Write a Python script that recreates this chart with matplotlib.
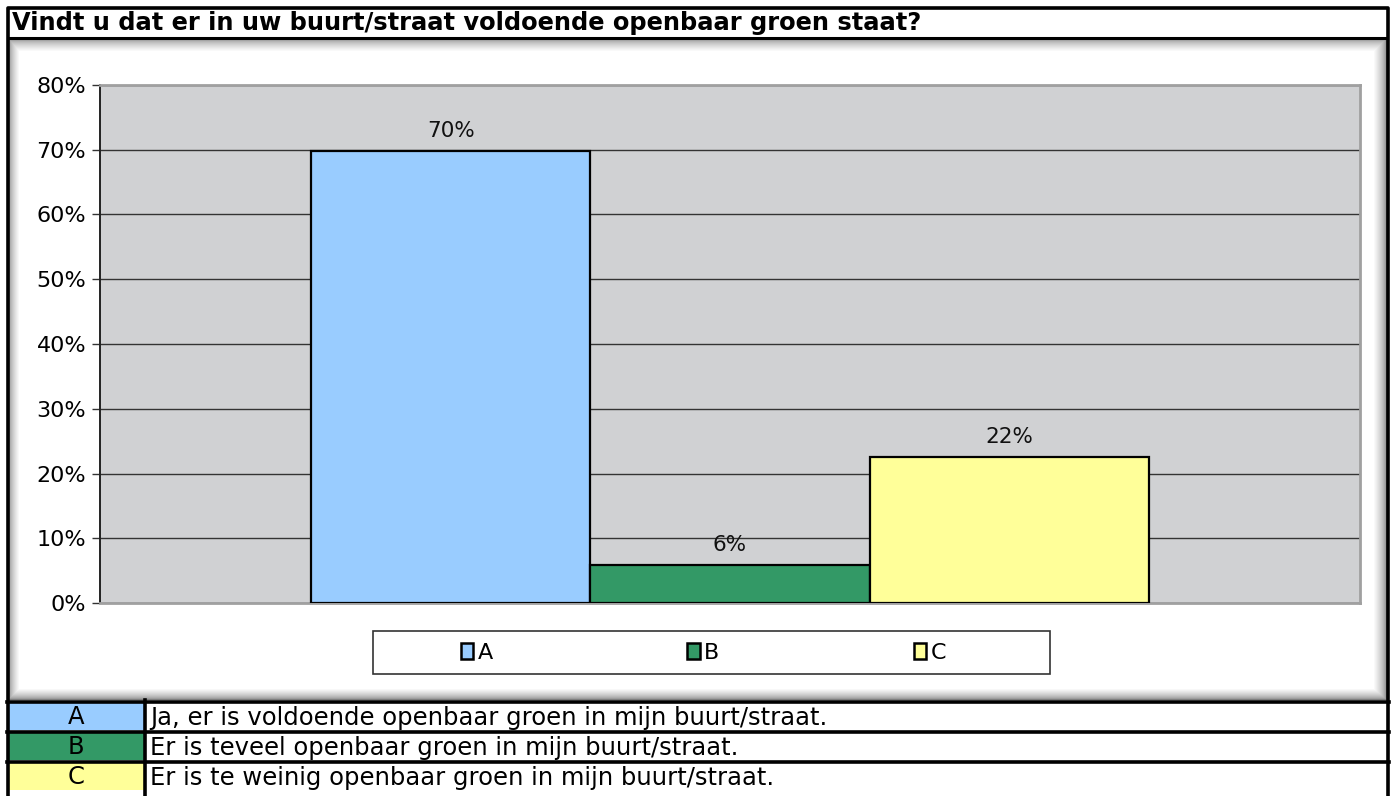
import numpy as np
import matplotlib
matplotlib.use("Agg")
import matplotlib.pyplot as plt
from matplotlib.patches import Rectangle, Patch

# data
categories = ["A", "B", "C"]
shares = [69.8, 5.9, 22.5]
value_labels = ["70%", "6%", "22%"]
bar_colors = ["#99CCFF", "#339966", "#FFFF99"]
answers = [
    "Ja, er is voldoende openbaar groen in mijn buurt/straat.",
    "Er is teveel openbaar groen in mijn buurt/straat.",
    "Er is te weinig openbaar groen in mijn buurt/straat.",
]
yticks = [0, 10, 20, 30, 40, 50, 60, 70, 80]
title = "Vindt u dat er in uw buurt/straat voldoende openbaar groen staat?"

W, H = 1391, 796
plt.rcParams["font.family"] = ["DejaVu Sans"]


def fx(px):
    return px / W


def fy(py):
    return 1 - py / H


fig = plt.figure(figsize=(W / 100, H / 100), dpi=100)
fig.patch.set_facecolor("white")

# chart panel with soft inner shadow
bg = fig.add_axes([fx(8), fy(700), fx(1379), (700 - 38) / H])
nx, ny = 1379, 662
xs = np.arange(nx)
ys = np.arange(ny)
dx = np.minimum(xs / 11.0, (nx - 1 - xs) / 13.0)
dy = np.minimum(ys / 13.0, (ny - 1 - ys) / 11.0)
d = np.clip(np.minimum(dx[None, :], dy[:, None]), 0, 1)
shade = 0.5 + 0.5 * d ** 0.6
bg.imshow(shade, cmap="gray", vmin=0, vmax=1, aspect="auto", interpolation="bilinear")
bg.axis("off")

# bar chart
ax = fig.add_axes([fx(100), fy(603), fx(1360 - 100), (603 - 85) / H])
ax.set_facecolor("#D0D1D3")
x = np.arange(len(categories))
bars = ax.bar(x, shares, width=1.0, color=bar_colors, edgecolor="black", linewidth=1.6, zorder=3)
for b, lab in zip(bars, value_labels):
    ax.annotate(lab, (b.get_x() + b.get_width() / 2, b.get_height()), xytext=(0, 14.5),
                textcoords="offset points", ha="center", va="center", fontsize=15.5, color="#111111")
ax.set_xlim(-1.258, 3.258)
ax.set_ylim(0, 80)
ax.set_yticks(yticks)
ax.set_yticklabels([f"{t}%" for t in yticks], fontsize=16)
ax.set_xticks([])
ax.yaxis.grid(True, color="#333333", linewidth=1.0, zorder=1)
ax.tick_params(axis="y", length=6, width=1, color="#333333", pad=4)
ax.spines["left"].set_color("#222222")
ax.spines["left"].set_linewidth(1.4)
for s in ["top", "right", "bottom"]:
    ax.spines[s].set_color("#A0A0A0")
    ax.spines[s].set_linewidth(2)

# legend
fig.patches.append(Rectangle((fx(373), fy(674)), fx(1050 - 373), (674 - 631) / H,
                             transform=fig.transFigure, facecolor="white", edgecolor="#333333",
                             linewidth=1.2))
handles = [Patch(facecolor=c, edgecolor="black", linewidth=1.8) for c in bar_colors]
fig.legend(handles, categories, loc="center", bbox_to_anchor=(fx(703.5), fy(653)), ncol=3,
           frameon=False, fontsize=16, handlelength=0.55, handleheight=0.7,
           handletextpad=0.2, columnspacing=8.76)

# title bar
fig.text(fx(12), fy(23), title, fontsize=17.4, fontweight="bold", va="center", ha="left")
fig.add_artist(plt.Line2D([fx(8), fx(1387)], [fy(38), fy(38)], color="black", linewidth=2.2))

# answer table
row_tops = [703, 733, 763]
row_h = 27
for top, cat, col, text in zip(row_tops, categories, bar_colors, answers):
    fig.patches.append(Rectangle((fx(8), fy(top + row_h)), fx(144 - 8), row_h / H,
                                 transform=fig.transFigure, facecolor=col, edgecolor="none"))
    fig.text(fx(76), fy(top + row_h / 2 + 1), cat, fontsize=17.5, ha="center", va="center")
    fig.text(fx(150), fy(top + row_h / 2 + 1), text, fontsize=17.5, ha="left", va="center")
for yline in [701.5, 731.5, 761.5]:
    fig.add_artist(plt.Line2D([fx(7), fx(1389)], [fy(yline), fy(yline)], color="black", linewidth=2.6))
fig.add_artist(plt.Line2D([fx(145), fx(145)], [fy(700), fy(800)], color="black", linewidth=2.6))

# outer frame
fig.add_artist(plt.Line2D([fx(7.5), fx(7.5), fx(1387.5), fx(1387.5)], [fy(800), fy(7.5), fy(7.5), fy(800)],
                          color="black", linewidth=2.6))

fig.savefig("out.png", dpi=100)
